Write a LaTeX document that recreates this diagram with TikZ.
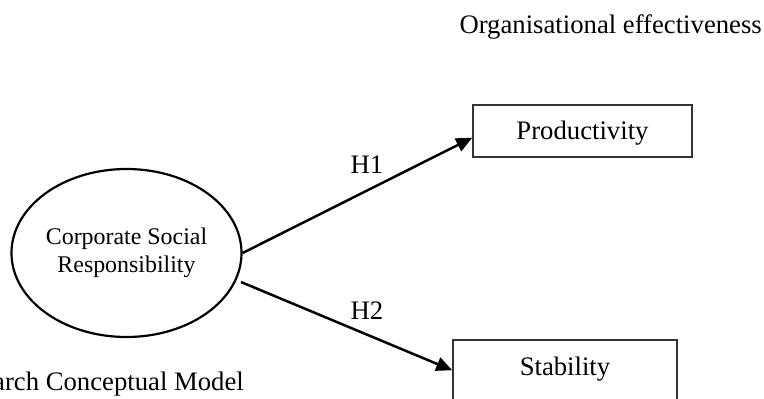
\documentclass[tikz,border=0pt]{standalone}
\usepackage{fontspec}
\setmainfont{Liberation Serif}
\usetikzlibrary{shapes.geometric,arrows.meta}
\tikzset{
  mainfont/.style={font=\fontsize{26.7pt}{32pt}\selectfont},
  latent/.style={ellipse, draw=black, line width=2.2pt, minimum width=230pt, minimum height=168pt, inner sep=0pt, align=center, font=\fontsize{23.9pt}{28pt}\selectfont},
  obsbox/.style={rectangle, draw=black!80, line width=1.5pt, mainfont, inner xsep=0pt, text height=18pt},
  path arrow/.style={line width=2.5pt, -{Triangle[length=16pt,width=14pt]}},
  plain label/.style={mainfont, inner sep=0pt}
}
\begin{document}
\begin{tikzpicture}[x=1pt,y=-1pt]
\useasboundingbox (0,0) rectangle (764,399);
\clip (0,0) rectangle (764,399);
\node[plain label, anchor=base east] (oe) at (762,33) {Organisational effectiveness};
\node[latent] (csr) at (126.5,253) {Corporate Social\\Responsibility};
\node[obsbox, anchor=north, minimum width=219pt, inner ysep=17pt, text depth=0pt] (prod) at (582.5,104) {Productivity};
\node[obsbox, anchor=north, minimum width=224pt, inner ysep=18pt, text depth=17pt] (stab) at (565,339) {Stability};
\coordinate (a2s) at (241,282);
\draw[path arrow] (csr.east) -- ([yshift=-7pt]prod.west);
\draw[path arrow] (a2s) -- ([yshift=5pt]stab.west);
\node[plain label, anchor=base] (h1) at (367,173) {H1};
\node[plain label, anchor=base] (h2) at (367,319) {H2};
\node[plain label, anchor=base east] (cap) at (244,390) {arch Conceptual Model};
\end{tikzpicture}
\end{document}
